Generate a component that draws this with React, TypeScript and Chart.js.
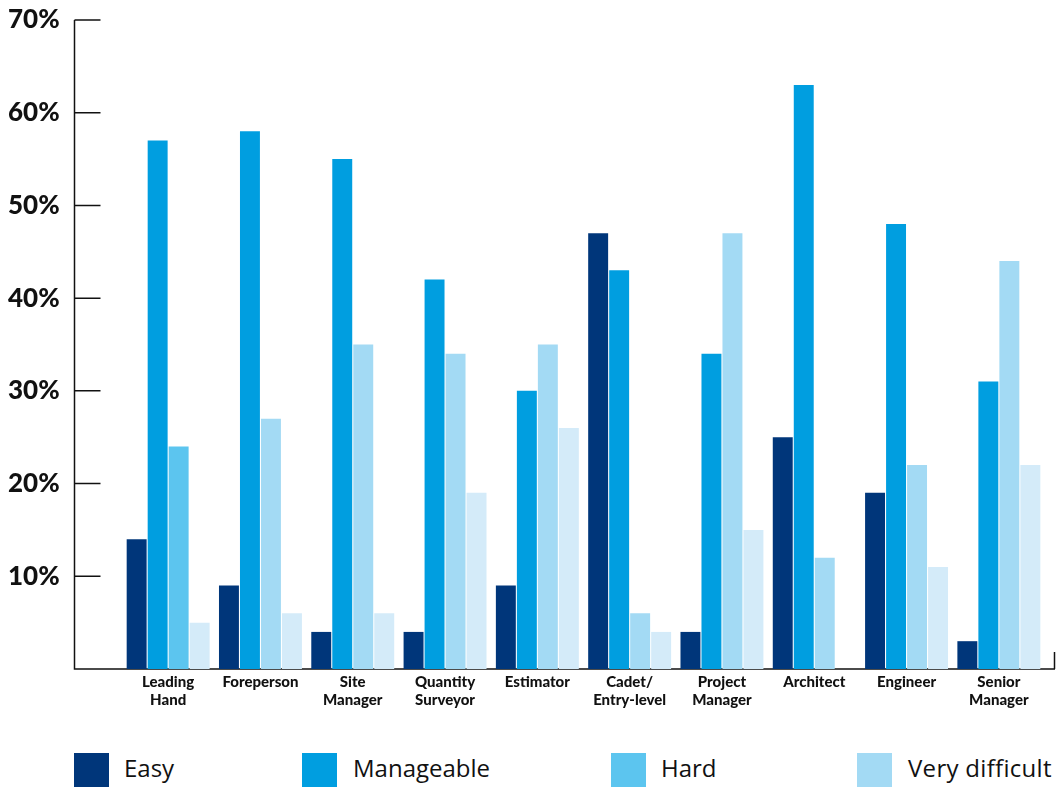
import React, { useEffect, useRef } from 'react';
import { Chart, registerables } from 'chart.js';

Chart.register(...registerables);

const categories: string[][] = [
  ['Leading', 'Hand'],
  ['Foreperson'],
  ['Site', 'Manager'],
  ['Quantity', 'Surveyor'],
  ['Estimator'],
  ['Cadet/', 'Entry-level'],
  ['Project', 'Manager'],
  ['Architect'],
  ['Engineer'],
  ['Senior', 'Manager'],
];
const seriesNames = ['Easy', 'Manageable', 'Hard', 'Very difficult'];
const easy = [14, 9, 4, 4, 9, 47, 4, 25, 19, 3];
const manageable = [57, 58, 55, 42, 30, 43, 34, 63, 48, 31];
const hard = [24, 27, 35, 34, 35, 6, 47, 12, 22, 44];
const veryDifficult = [5, 6, 6, 19, 26, 4, 15, 0, 11, 22];
const yTicks = [0, 10, 20, 30, 40, 50, 60, 70];

const C_EASY = '#00367A';
const C_MAN = '#009EE0';
const C_HARD = '#5CC5EF';
const C_VD_LEGEND = '#A3DAF4';
const C_VD_BAR = '#D4EBF9';

// the "Hard" bars are drawn in the lighter tint except the first group (as in the source)
const hardColors = categories.map((_, i) => (i === 0 ? C_HARD : C_VD_LEGEND));
const legendColors = [C_EASY, C_MAN, C_HARD, C_VD_LEGEND];

const framePlugin = {
  id: 'frame',
  beforeDatasetsDraw(chart: any) {
    const { ctx, chartArea, scales } = chart;
    const y = scales.y;
    const ax = chartArea.left - 47.5;
    const y0 = y.getPixelForValue(0);
    const rightEnd = chartArea.right + 10;
    ctx.save();
    ctx.strokeStyle = '#111111';
    ctx.lineWidth = 1.5;
    ctx.beginPath();
    ctx.moveTo(ax, y.getPixelForValue(yTicks[yTicks.length - 1]));
    ctx.lineTo(ax, y0);
    ctx.lineTo(rightEnd, y0);
    ctx.moveTo(rightEnd - 0.5, y0);
    ctx.lineTo(rightEnd - 0.5, y0 - 17);
    yTicks.forEach((v) => {
      if (v > 0) {
        const p = y.getPixelForValue(v);
        ctx.moveTo(ax, p);
        ctx.lineTo(ax + 26, p);
      }
    });
    ctx.stroke();
    ctx.restore();
  },
};

export default function App() {
  const ref = useRef<HTMLCanvasElement | null>(null);

  useEffect(() => {
    if (!ref.current) return;
    const common = { barPercentage: 0.95, categoryPercentage: 0.91, borderWidth: 0 };
    const chart = new Chart(ref.current, {
      type: 'bar',
      data: {
        labels: categories,
        datasets: [
          { label: seriesNames[0], data: easy, backgroundColor: C_EASY, ...common },
          { label: seriesNames[1], data: manageable, backgroundColor: C_MAN, ...common },
          { label: seriesNames[2], data: hard, backgroundColor: hardColors, ...common },
          { label: seriesNames[3], data: veryDifficult, backgroundColor: C_VD_BAR, ...common },
        ],
      },
      options: {
        animation: false,
        responsive: false,
        maintainAspectRatio: false,
        layout: { padding: { left: 8, right: 12, top: 20, bottom: 0 } },
        plugins: { legend: { display: false }, tooltip: { enabled: false } },
        scales: {
          x: {
            grid: { display: false, drawTicks: false, tickLength: 0 },
            border: { display: false },
            ticks: {
              padding: 4,
              color: '#111111',
              font: { family: 'Lato', weight: '900', size: 15, lineHeight: 1.2 },
              maxRotation: 0,
              autoSkip: false,
            },
            afterFit: (s: any) => {
              s.height = 61;
            },
          },
          y: {
            min: 0,
            max: 70,
            grid: { display: false, drawTicks: false, tickLength: 0 },
            border: { display: false },
            afterBuildTicks: (s: any) => {
              s.ticks = yTicks.map((v) => ({ value: v }));
            },
            ticks: {
              crossAlign: 'far',
              padding: 0,
              color: '#111111',
              font: { family: 'Lato', weight: '900', size: 26, lineHeight: 1.2 },
              callback: (v: any) => (Number(v) === 0 ? '' : v + '%'),
            },
            afterFit: (s: any) => {
              s.width = 114;
            },
          },
        },
      },
      plugins: [framePlugin],
    });
    return () => chart.destroy();
  }, []);

  const legendBoxLeft = [74, 302, 611, 857];
  const legendTextLeft = [124, 353, 661, 908];

  return (
    <div
      style={{
        position: 'absolute',
        left: 0,
        top: 0,
        width: 1057,
        height: 787,
        overflow: 'hidden',
        background: '#ffffff',
      }}
    >
      <canvas ref={ref} width={1057} height={730} style={{ display: 'block', width: 1057, height: 730 }} />
      {seriesNames.map((name, i) => (
        <React.Fragment key={name}>
          <div
            style={{
              position: 'absolute',
              left: legendBoxLeft[i],
              top: 753,
              width: 35,
              height: 34,
              background: legendColors[i],
            }}
          />
          <div
            style={{
              position: 'absolute',
              left: legendTextLeft[i],
              top: 751,
              fontFamily: '"Open Sans", sans-serif',
              fontSize: 24,
              color: '#111111',
              whiteSpace: 'nowrap',
              lineHeight: 'normal',
              letterSpacing: i === 3 ? 0.3 : 0,
            }}
          >
            {name}
          </div>
        </React.Fragment>
      ))}
    </div>
  );
}
